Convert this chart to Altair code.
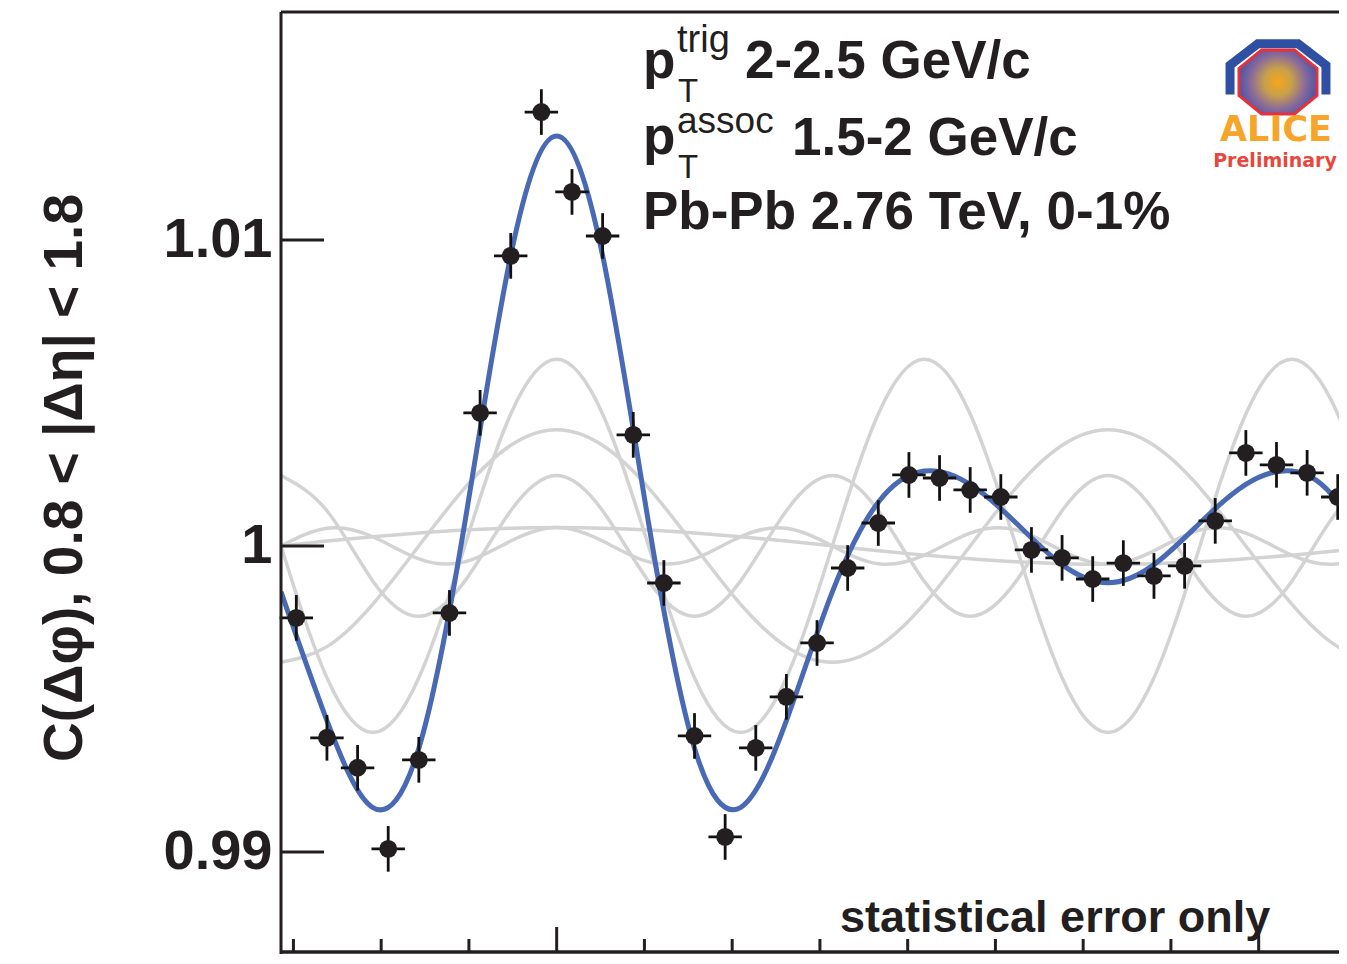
import math
import pandas as pd
import altair as alt

# ---------------- data ----------------
# bin centres of delta-phi in degrees (bin width 10 deg)
bin_deg = [-85, -75, -65, -55, -45, -35, -25, -15, -5, 5, 15, 25, 35, 45, 55, 65,
           75, 85, 95, 105, 115, 125, 135, 145, 155, 165, 175, 185, 195, 205, 215,
           225, 235, 245, 255]
corr = [0.99765, 0.99373, 0.99275, 0.99010, 0.99301, 0.99781, 1.00435, 1.00948,
        1.01418, 1.01157, 1.01013, 1.00363, 0.99879, 0.99379, 0.99049, 0.99340,
        0.99507, 0.99683, 0.99928, 1.00075, 1.00232, 1.00222, 1.00183, 1.00160,
        0.99987, 0.99961, 0.99892, 0.99944, 0.99902, 0.99935, 1.00082, 1.00304,
        1.00265, 1.00239, 1.00160]
stat_err = [0.0007, 0.0007, 0.0007, 0.0007, 0.0007, 0.0007, 0.0007, 0.0007,
            0.0007, 0.0007, 0.0007, 0.0007, 0.0007, 0.0007, 0.0007, 0.0007,
            0.0007, 0.0007, 0.0007, 0.0007, 0.0007, 0.0007, 0.0007, 0.0007,
            0.0007, 0.0007, 0.0007, 0.0007, 0.0007, 0.0007, 0.0007, 0.0007,
            0.0007, 0.0007, 0.0007]
bin_half_deg = 5

# sampled curve values (degrees -90 .. 270, step 15)
curve_deg = [-90, -75, -60, -45, -30, -15, 0, 15, 30, 45, 60, 75, 90, 105, 120,
             135, 150, 165, 180, 195, 210, 225, 240, 255, 270]
h1 = [1.00000, 1.00016, 1.00030, 1.00042, 1.00052, 1.00058, 1.00060, 1.00058,
      1.00052, 1.00042, 1.00030, 1.00016, 1.00000, 0.99984, 0.99970, 0.99958,
      0.99948, 0.99942, 0.99940, 0.99942, 0.99948, 0.99958, 0.99970, 0.99984, 1.00000]
h2 = [0.99620, 0.99671, 0.99810, 1.00000, 1.00190, 1.00329, 1.00380, 1.00329,
      1.00190, 1.00000, 0.99810, 0.99671, 0.99620, 0.99671, 0.99810, 1.00000,
      1.00190, 1.00329, 1.00380, 1.00329, 1.00190, 1.00000, 0.99810, 0.99671, 0.99620]
h3 = [1.00000, 0.99569, 0.99390, 0.99569, 1.00000, 1.00431, 1.00610, 1.00431,
      1.00000, 0.99569, 0.99390, 0.99569, 1.00000, 1.00431, 1.00610, 1.00431,
      1.00000, 0.99569, 0.99390, 0.99569, 1.00000, 1.00431, 1.00610, 1.00431, 1.00000]
h4 = [1.00230, 1.00115, 0.99885, 0.99770, 0.99885, 1.00115, 1.00230, 1.00115,
      0.99885, 0.99770, 0.99885, 1.00115, 1.00230, 1.00115, 0.99885, 0.99770,
      0.99885, 1.00115, 1.00230, 1.00115, 0.99885, 0.99770, 0.99885, 1.00115, 1.00230]
h5 = [1.00000, 1.00058, 1.00030, 0.99958, 0.99948, 1.00016, 1.00060, 1.00016,
      0.99948, 0.99958, 1.00030, 1.00058, 1.00000, 0.99942, 0.99970, 1.00042,
      1.00052, 0.99984, 0.99940, 0.99984, 1.00052, 1.00042, 0.99970, 0.99942, 1.00000]
fit = [0.99850, 0.99429, 0.99145, 0.99339, 1.00075, 1.00949, 1.01340, 1.00949,
       1.00075, 0.99339, 0.99145, 0.99429, 0.99850, 1.00143, 1.00245, 1.00201,
       1.00075, 0.99939, 0.99880, 0.99939, 1.00075, 1.00201, 1.00245, 1.00143, 0.99850]

x_minor_ticks = [-1.5, -1.0, -0.5, 0.5, 1.0, 1.5, 2.0, 2.5, 3.0, 3.5]
x_major_ticks = [0.0, 4.0]
y_ticks = [0.99, 1.0, 1.01]

# ---------------- tables ----------------
D2R = math.pi / 180.0
pts = pd.DataFrame({"x": [d * D2R for d in bin_deg], "y": corr, "e": stat_err})
pts["xlo"] = pts["x"] - bin_half_deg * D2R
pts["xhi"] = pts["x"] + bin_half_deg * D2R
pts["ylo"] = pts["y"] - pts["e"]
pts["yhi"] = pts["y"] + pts["e"]

rows = []
for name, vals in [("h1", h1), ("h2", h2), ("h3", h3), ("h4", h4), ("h5", h5)]:
    for d, v in zip(curve_deg, vals):
        rows.append({"x": d * D2R, "y": v, "c": name})
harm = pd.DataFrame(rows)
fitdf = pd.DataFrame({"x": [d * D2R for d in curve_deg], "y": fit})

INK = "#231f20"
FONT = "Liberation Sans"
W, H = 1058, 940

xs = alt.Scale(domain=[-math.pi / 2, 4.4577], nice=False, zero=False)
ys = alt.Scale(domain=[0.98673, 1.01745], nice=False, zero=False)
yaxis = alt.Axis(values=y_ticks, format="~g", labelFont=FONT, labelFontSize=56,
                 labelFontWeight="bold", labelColor=INK, labelPadding=9,
                 ticks=False, tickSize=0, domain=False, grid=False, title=None)

def X(f):
    return alt.X(f, type="quantitative", scale=xs, axis=None)

def Y(f):
    return alt.Y(f, type="quantitative", scale=ys, axis=yaxis)

gray = alt.Chart(harm).mark_line(color="#d3d3d3", strokeWidth=3.5, clip=True,
                                 interpolate="natural").encode(
    x=X("x"), y=Y("y"), detail="c:N")
blue = alt.Chart(fitdf).mark_line(color="#4a69b5", strokeWidth=5, clip=True,
                                  interpolate="natural").encode(x=X("x"), y=Y("y"))
vbar = alt.Chart(pts).mark_rule(color="#111111", strokeWidth=2.8, strokeCap="square").encode(
    x=X("x"), y=Y("ylo"), y2="yhi")
hbar = alt.Chart(pts).mark_rule(color="#111111", strokeWidth=2.8, strokeCap="square").encode(
    x=X("xlo"), x2="xhi", y=Y("y"))
dots = alt.Chart(pts).mark_circle(size=320, color=INK, opacity=1).encode(x=X("x"), y=Y("y"))

minor = alt.Chart(pd.DataFrame({"t": x_minor_ticks})).mark_rule(color=INK, strokeWidth=3).encode(
    x=X("t"), y=alt.value(H), y2=alt.value(H - 13))
major = alt.Chart(pd.DataFrame({"t": x_major_ticks})).mark_rule(color=INK, strokeWidth=3).encode(
    x=X("t"), y=alt.value(H), y2=alt.value(H - 25))
yt = alt.Chart(pd.DataFrame({"t": y_ticks})).mark_rule(color=INK, strokeWidth=3).encode(
    y=Y("t"), x=alt.value(0), x2=alt.value(43))

one = pd.DataFrame({"k": [0]})
frame_top = alt.Chart(one).mark_rule(color=INK, strokeWidth=3).encode(
    x=alt.value(0), x2=alt.value(W), y=alt.value(0))
frame_left = alt.Chart(one).mark_rule(color=INK, strokeWidth=3).encode(
    x=alt.value(0), y=alt.value(0), y2=alt.value(H + 6))
frame_bottom = alt.Chart(one).mark_rule(color=INK, strokeWidth=3.5).encode(
    x=alt.value(0), x2=alt.value(W), y=alt.value(H))


def txt(s, x, y, size, weight="bold", color=INK, align="left", angle=0, font=FONT,
        baseline="alphabetic"):
    return alt.Chart(pd.DataFrame({"t": [s]})).mark_text(
        font=font, fontSize=size, fontWeight=weight, color=color, align=align,
        baseline=baseline, angle=angle).encode(
        text="t:N", x=alt.value(x), y=alt.value(y))

texts = [
    txt("p", 362, 66, 53),
    txt("trig", 396, 40, 38, weight="normal"),
    txt("T", 397, 90, 33, weight="normal"),
    txt("2-2.5 GeV/c", 464, 66, 53),
    txt("p", 362, 142, 53),
    txt("assoc", 396, 121, 37, weight="normal"),
    txt("T", 397, 166, 33, weight="normal"),
    txt("1.5-2 GeV/c", 511, 143, 53),
    txt("Pb-Pb 2.76 TeV, 0-1%", 362, 217, 53),
    txt("statistical error only", 559, 920, 45),
    txt("C(Δφ),  0.8 < |Δη| < 1.8", -216, 466, 55, align="center", angle=270,
        baseline="middle"),
    txt("ALICE", 995, 129, 35, color="#f6a52a", align="center", font="DejaVu Sans"),
    txt("Preliminary", 994, 155, 19, color="#e8473c", align="center", font="DejaVu Sans"),
]

arch = alt.Chart(one).mark_point(
    shape="M-1,0.26L-1,-0.35L-0.42,-0.8L0.42,-0.8L1,-0.35L1,0.26",
    filled=False, stroke="#2f4fa2", strokeWidth=9, size=9200, opacity=1).encode(
    x=alt.value(997), y=alt.value(70))
octa = alt.Chart(one).mark_point(
    shape="M-0.42,-0.82L0.42,-0.82L1,-0.35L1,0.35L0.42,0.82L-0.42,0.82L-1,0.35L-1,-0.35Z",
    filled=True, size=6084, opacity=1, stroke="#e8303a", strokeWidth=3,
    fill={"gradient": "radial", "stops": [
        {"offset": 0, "color": "#f7a51c"},
        {"offset": 0.35, "color": "#c9a04a"},
        {"offset": 0.7, "color": "#8a6a9a"},
        {"offset": 1, "color": "#4b56a8"}]}).encode(
    x=alt.value(997), y=alt.value(70))

chart = alt.layer(gray, blue, vbar, hbar, dots, minor, major, yt,
                  frame_top, frame_left, frame_bottom, arch, octa, *texts).properties(
    width=W, height=H,
    autosize=alt.AutoSizeParams(type="none"),
    padding={"left": 273, "top": 4, "right": 0, "bottom": 2},
    background="white",
).configure(font=FONT).configure_view(stroke="transparent", strokeWidth=0)

chart.save("out.html", embed_options={"renderer": "svg", "actions": False})
